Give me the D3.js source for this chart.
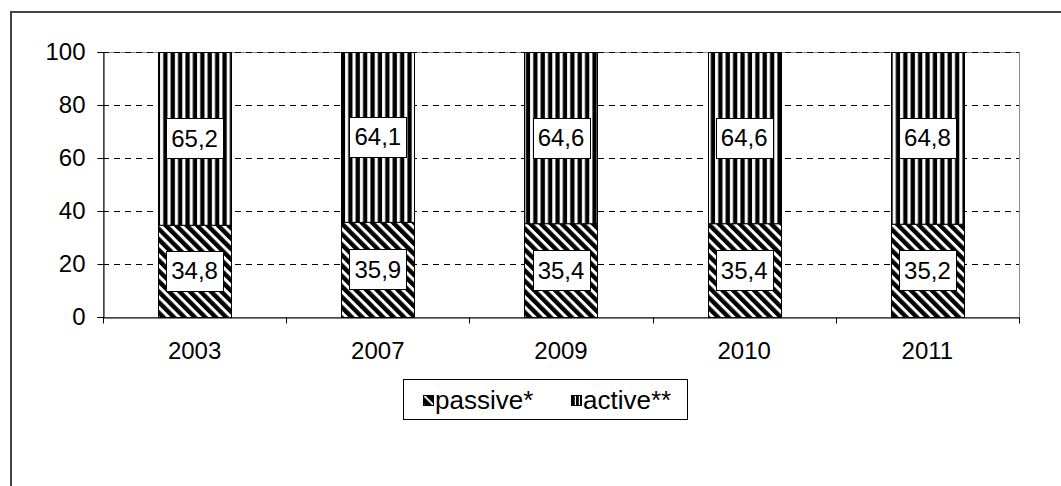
<!DOCTYPE html>
<html>
<head>
<meta charset="utf-8">
<script src="https://cdn.jsdelivr.net/npm/d3@7"></script>
<style>
  html, body { margin: 0; padding: 0; background: #fff; }
  svg { display: block; font-family: "Liberation Sans", Arial, sans-serif; }
</style>
</head>
<body>
<svg id="chart" width="1061" height="486"></svg>
<script>
// Shares of the two groups per survey year (percent)
const years = ["2003", "2007", "2009", "2010", "2011"];
const passive = [34.8, 35.9, 35.4, 35.4, 35.2];
const active = [65.2, 64.1, 64.6, 64.6, 64.8];
const yTicks = [0, 20, 40, 60, 80, 100];
const seriesNames = ["passive*", "active**"];

const svg = d3.select("#chart");
const W = 1061, H = 486;
const plot = { left: 103, right: 1019, top: 52, bottom: 317 };

const defs = svg.append("defs");

// Vertical stripes (active)
const pv = defs.append("pattern")
  .attr("id", "vstripe").attr("patternUnits", "userSpaceOnUse")
  .attr("width", 7.4).attr("height", 10);
pv.append("rect").attr("width", 7.4).attr("height", 10).attr("fill", "#fff");
pv.append("rect").attr("x", 0.4).attr("width", 4.3).attr("height", 10).attr("fill", "#000");

// Diagonal stripes running top-left to bottom-right (passive)
const pd = defs.append("pattern")
  .attr("id", "dstripe").attr("patternUnits", "userSpaceOnUse")
  .attr("width", 7.4).attr("height", 10)
  .attr("patternTransform", "rotate(-45)");
pd.append("rect").attr("width", 7.4).attr("height", 10).attr("fill", "#fff");
pd.append("rect").attr("width", 4.4).attr("height", 10).attr("fill", "#000");

// Smaller versions for the legend keys
const lv = defs.append("pattern")
  .attr("id", "vstripeSmall").attr("patternUnits", "userSpaceOnUse")
  .attr("width", 4).attr("height", 10);
lv.append("rect").attr("width", 4).attr("height", 10).attr("fill", "#fff");
lv.append("rect").attr("width", 2.8).attr("height", 10).attr("fill", "#000");

const ld = defs.append("pattern")
  .attr("id", "dstripeSmall").attr("patternUnits", "userSpaceOnUse")
  .attr("width", 7).attr("height", 10)
  .attr("patternTransform", "rotate(-45)");
ld.append("rect").attr("width", 7).attr("height", 10).attr("fill", "#fff");
ld.append("rect").attr("width", 5.2).attr("height", 10).attr("fill", "#000");

// Outer frame
svg.append("rect")
  .attr("x", 11).attr("y", 12).attr("width", W + 20).attr("height", H + 20)
  .attr("fill", "none").attr("stroke", "#444").attr("stroke-width", 2);

const x = d3.scaleBand().domain(years)
  .range([plot.left, plot.right]).paddingInner(0.6).paddingOuter(0.3);
const y = d3.scaleLinear().domain([0, 100]).range([plot.bottom, plot.top]);

// Plot area border
svg.append("rect")
  .attr("x", plot.left + 0.5).attr("y", plot.top + 0.5)
  .attr("width", plot.right - plot.left).attr("height", plot.bottom - plot.top)
  .attr("fill", "none").attr("stroke", "#8a8a8a").attr("stroke-width", 1);

// Dashed gridlines
svg.append("g").selectAll("line")
  .data(yTicks.filter(d => d > 0))
  .join("line")
  .attr("x1", plot.left).attr("x2", plot.right)
  .attr("y1", d => Math.round(y(d)) + 0.5).attr("y2", d => Math.round(y(d)) + 0.5)
  .attr("stroke", "#000").attr("stroke-width", 1)
  .attr("stroke-dasharray", "6,5");

// Stacked bars
const stackData = years.map((yr, i) => ({ year: yr, passive: passive[i], active: active[i] }));
const series = d3.stack().keys(["passive", "active"])(stackData);
const fills = { passive: "url(#dstripe)", active: "url(#vstripe)" };

const layers = svg.append("g").selectAll("g")
  .data(series).join("g");

layers.selectAll("rect")
  .data(s => s.map(d => Object.assign({ key: s.key }, d)))
  .join("rect")
  .attr("x", d => Math.round(x(d.data.year)) + 0.5)
  .attr("y", d => y(d[1]) + 0.5)
  .attr("width", Math.round(x.bandwidth()))
  .attr("height", d => y(d[0]) - y(d[1]))
  .attr("fill", d => fills[d.key])
  .attr("stroke", "#000").attr("stroke-width", 1);

// Value labels in white boxes
const labelG = svg.append("g");
series.forEach(s => {
  s.forEach(d => {
    const cx = x(d.data.year) + x.bandwidth() / 2;
    const cy = y((d[0] + d[1]) / 2);
    const v = d[1] - d[0];
    const txt = d3.format(".1f")(v).replace(".", ",");
    const g = labelG.append("g");
    const t = g.append("text")
      .attr("x", cx).attr("y", cy)
      .attr("text-anchor", "middle").attr("dominant-baseline", "central")
      .attr("font-size", 24).attr("fill", "#000")
      .text(txt);
    const tw = t.node().getComputedTextLength();
    g.insert("rect", "text")
      .attr("x", Math.round(cx - tw / 2 - 5) + 0.5)
      .attr("y", Math.round(cy - 20) + 0.5)
      .attr("width", Math.round(tw + 10)).attr("height", 40)
      .attr("fill", "#fff").attr("stroke", "#000").attr("stroke-width", 1);
  });
});

// Y axis
const yAxis = svg.append("g")
  .attr("transform", `translate(${plot.left + 0.5},0)`)
  .call(d3.axisLeft(y).tickValues(yTicks).tickSize(6).tickPadding(12).tickFormat(d3.format("d")));
yAxis.select(".domain").attr("stroke", "#000");
yAxis.selectAll(".tick line").attr("stroke", "#000");
yAxis.selectAll("text").attr("font-size", 24).attr("fill", "#000")
  .attr("font-family", "Liberation Sans, Arial, sans-serif");

// X axis with ticks at category boundaries
const xAxis = svg.append("g")
  .attr("transform", `translate(0,${plot.bottom + 0.5})`)
  .call(d3.axisBottom(x).tickSize(0).tickPadding(24));
xAxis.select(".domain").attr("stroke", "#000");
xAxis.selectAll("text").attr("font-size", 24).attr("fill", "#000")
  .attr("font-family", "Liberation Sans, Arial, sans-serif");
const boundaries = d3.range(years.length + 1).map(i => plot.left + i * (plot.right - plot.left) / years.length);
xAxis.selectAll(".bound").data(boundaries).join("line")
  .attr("class", "bound")
  .attr("x1", d => Math.round(d) + 0.5).attr("x2", d => Math.round(d) + 0.5)
  .attr("y1", 0).attr("y2", 6)
  .attr("stroke", "#000");

// Legend
const legend = svg.append("g");
legend.append("rect")
  .attr("x", 403.5).attr("y", 379.5).attr("width", 284).attr("height", 40)
  .attr("fill", "#fff").attr("stroke", "#000").attr("stroke-width", 1);
const legendItems = [
  { name: seriesNames[0], fill: "url(#dstripeSmall)", x: 423 },
  { name: seriesNames[1], fill: "url(#vstripeSmall)", x: 571 }
];
legendItems.forEach(it => {
  legend.append("rect")
    .attr("x", it.x + 0.5).attr("y", 395.5).attr("width", 10).attr("height", 10)
    .attr("fill", it.fill).attr("stroke", "#000").attr("stroke-width", 1);
  legend.append("text")
    .attr("x", it.x + 12).attr("y", 400)
    .attr("dominant-baseline", "central")
    .attr("font-size", 26).attr("fill", "#000")
    .text(it.name);
});
</script>
</body>
</html>
